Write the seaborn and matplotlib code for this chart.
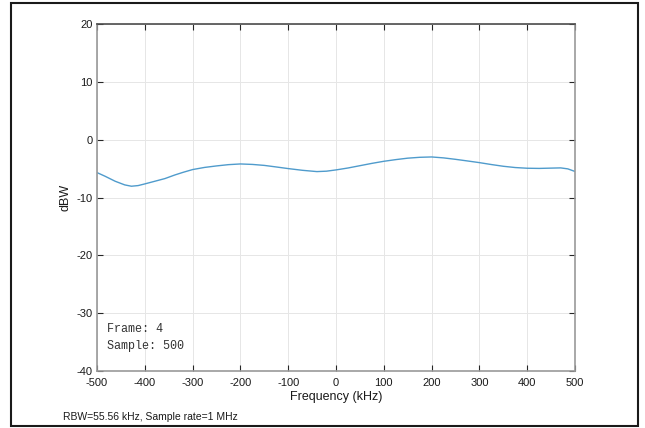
import matplotlib
matplotlib.use("Agg")
import matplotlib.pyplot as plt
from matplotlib.patches import Rectangle
import seaborn as sb

# spectrum values
freq_khz = [-500, -483, -462, -442, -428, -414, -400, -379, -358, -337, -320, -300,
            -275, -250, -225, -200, -175, -150, -125, -100, -70, -40, -20, 0,
            25, 50, 75, 100, 125, 150, 175, 200, 225, 250, 275, 300, 325, 350,
            375, 400, 425, 450, 470, 485, 500]
power_dbw = [-5.69, -6.33, -7.19, -7.82, -8.05, -7.94, -7.65, -7.19, -6.73, -6.1, -5.65, -5.17,
             -4.8, -4.54, -4.32, -4.2, -4.28, -4.45, -4.72, -5.0, -5.3, -5.52, -5.45, -5.23,
             -4.9, -4.5, -4.1, -3.74, -3.45, -3.2, -3.05, -2.99, -3.15, -3.4, -3.68, -3.97, -4.3, -4.6,
             -4.82, -4.94, -4.97, -4.92, -4.88, -5.05, -5.5]

xticks = list(range(-500, 501, 100))
yticks = list(range(-40, 21, 10))

sb.set_theme(style="white")
plt.rcParams['font.family'] = ['Liberation Sans', 'DejaVu Sans']
plt.rcParams['axes.unicode_minus'] = False

fig = plt.figure(figsize=(6.45, 4.28), dpi=100)
ax = fig.add_axes([97 / 645, 1 - 371 / 428, 478 / 645, 347 / 428])

sb.lineplot(x=freq_khz, y=power_dbw, ax=ax, color='#4f9bcc', linewidth=1.0)

ax.set_xlim(-500, 500)
ax.set_ylim(-40, 20)
ax.set_xticks(xticks)
ax.set_yticks(yticks)
ax.tick_params(axis='both', direction='in', length=4, width=0.8, color='#262626',
               labelsize=8, labelcolor='#1a1a1a', top=True, right=True,
               left=True, bottom=True)
ax.tick_params(axis='x', pad=5)
ax.tick_params(axis='y', pad=3)
ax.grid(True, color='#e6e6e6', linewidth=0.7)
for s in ax.spines.values():
    s.set_color('#999999')
    s.set_linewidth(1.2)
ax.spines['top'].set_color('#4d4d4d')

ax.set_xlabel('Frequency (kHz)', fontsize=9, color='#1a1a1a', labelpad=2)
ax.set_ylabel('dBW', fontsize=9, color='#1a1a1a', labelpad=4)

ax.text(0.02, 0.12, 'Frame: 4', transform=ax.transAxes, fontsize=8.5,
        family='Liberation Mono', color='#333333', va='center')
ax.text(0.02, 0.072, 'Sample: 500', transform=ax.transAxes, fontsize=8.5,
        family='Liberation Mono', color='#333333', va='center')

fig.text(63 / 645, 1 - 417 / 428, 'RBW=55.56 kHz, Sample rate=1 MHz', fontsize=7.5,
         color='#1a1a1a', va='center')

fig.patches.append(Rectangle((11 / 645, 2 / 428), 627 / 645, 423 / 428,
                             transform=fig.transFigure, fill=False,
                             edgecolor='#1a1a1a', linewidth=1.5))

fig.savefig("out.png", dpi=100)
